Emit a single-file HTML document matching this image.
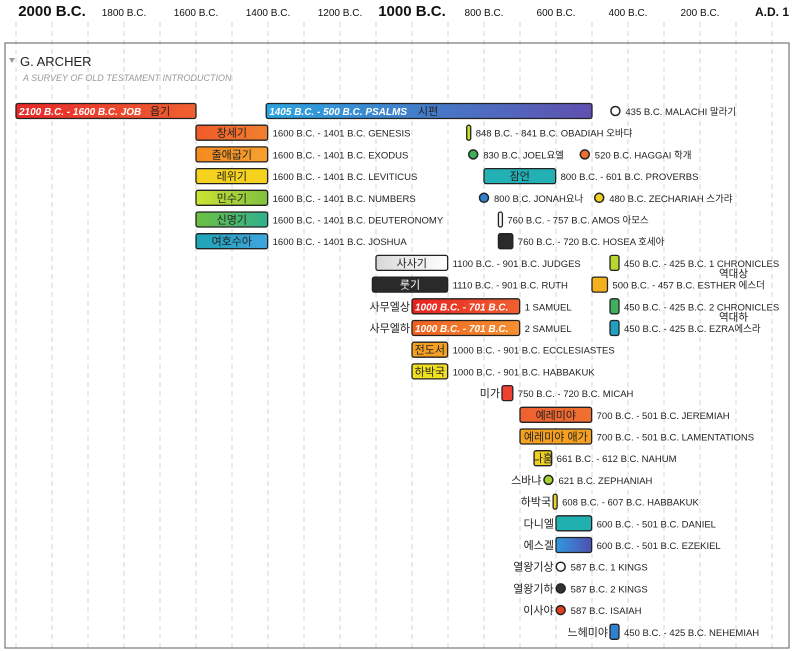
<!DOCTYPE html>
<html><head><meta charset="utf-8">
<style>
body{margin:0;background:#fff;}
svg{display:block;font-family:"Liberation Sans","Noto Sans CJK KR",sans-serif;}
</style></head>
<body>
<svg id="chart" width="800" height="651" viewBox="0 0 800 651">
<defs id="defs"></defs>
<g id="grid"></g>
<g id="axis"></g>
<rect x="5" y="43" width="784" height="605" fill="none" stroke="#777" stroke-width="1.2"/>
<path d="M9 58 L15 58 L12 63 Z" fill="#999"/>
<text x="20" y="66" font-size="13" fill="#222">G. ARCHER</text>
<text x="23" y="81" font-size="9" font-style="italic" fill="#999">A SURVEY OF OLD TESTAMENT INTRODUCTION</text>
<g id="marks"></g>
</svg>
<script>
const tickYears=[2000,1800,1600,1400,1200,1000,800,600,400,200,0];
const tickLabels=["2000 B.C.","1800 B.C.","1600 B.C.","1400 B.C.","1200 B.C.","1000 B.C.","800 B.C.","600 B.C.","400 B.C.","200 B.C.","A.D. 1"];
const gridYears=[2100,2000,1900,1800,1700,1600,1500,1400,1300,1200,1100,1000,900,800,700,600,500,400,300,200,100,0];
const starts=[2100,1405,435,1600,1600,1600,1600,1600,1600,848,830,520,800,800,480,760,760,1100,1110,1000,1000,1000,1000,750,700,700,661,621,608,600,600,587,587,587,450,450,500,450,450];
const ends  =[1600,500,435,1401,1401,1401,1401,1401,1401,841,830,520,601,800,480,757,720,901,901,701,701,901,901,720,501,501,612,621,607,501,501,587,587,587,425,425,457,425,425];
const rows  =[0,0,0,1,2,3,4,5,6,1,2,2,3,4,4,5,6,7,8,9,10,11,12,13,14,15,16,17,18,19,20,21,22,23,24,7,8,9,10];
const colA=["#e8282a","#2aa4e0","#ffffff","#f05a28","#f58a20","#f5d21e","#cde432","#6cc040","#1ea4b4","#c8e030","#3cb054","#f07030","#22b0b4","#3080d0","#f0d020","#e8e8e8","#2a2a2a","#d8d8d8","#2a2a2a","#e82020","#f06020","#f5a020","#f0e020","#f04030","#f06030","#f5a020","#f0d020","#a8d030","#f0d020","#20b0b0","#3098e0","#ffffff","#333333","#e04020","#3080d0","#b8d830","#f5b020","#40b060","#20a0c0"];
const colB=["#f06030","#6050b0","#ffffff","#f08030","#f5a030","#f5d21e","#80c040","#30b090","#40a4e0","#c8e030","#3cb054","#f07030","#22b0b4","#3080d0","#f0d020","#ffffff","#2a2a2a","#ffffff","#2a2a2a","#f06030","#f59030","#f5a020","#f0e020","#f04030","#f07030","#f5a020","#f0d020","#a8d030","#f0d020","#20b0b0","#5050b0","#ffffff","#333333","#e04020","#3080d0","#b8d830","#f5b020","#40b060","#20a0c0"];
const insideLabels=["2100 B.C. - 1600 B.C. JOB","1405 B.C. - 500 B.C. PSALMS","","창세기","출애굽기","레위기","민수기","신명기","여호수아","","","","잠언","","","","","사사기","룻기","1000 B.C. - 701 B.C.","1000 B.C. - 701 B.C.","전도서","하박국","","예레미야","예레미야 애가","나훔","","","","","","","","","","","",""];
const insideKo=["욥기","시편","","","","","","","","","","","","","","","","","","","","","","","","","","","","","","","","","","","","",""];
const afterLabels=["","","435 B.C. MALACHI 말라기","1600 B.C. - 1401 B.C. GENESIS","1600 B.C. - 1401 B.C. EXODUS","1600 B.C. - 1401 B.C. LEVITICUS","1600 B.C. - 1401 B.C. NUMBERS","1600 B.C. - 1401 B.C. DEUTERONOMY","1600 B.C. - 1401 B.C. JOSHUA","848 B.C. - 841 B.C. OBADIAH 오바댜","830 B.C. JOEL요엘","520 B.C. HAGGAI 학개","800 B.C. - 601 B.C. PROVERBS","800 B.C. JONAH요나","480 B.C. ZECHARIAH 스가랴","760 B.C. - 757 B.C. AMOS 아모스","760 B.C. - 720 B.C. HOSEA 호세아","1100 B.C. - 901 B.C. JUDGES","1110 B.C. - 901 B.C. RUTH","1 SAMUEL","2 SAMUEL","1000 B.C. - 901 B.C. ECCLESIASTES","1000 B.C. - 901 B.C. HABBAKUK","750 B.C. - 720 B.C. MICAH","700 B.C. - 501 B.C. JEREMIAH","700 B.C. - 501 B.C. LAMENTATIONS","661 B.C. - 612 B.C. NAHUM","621 B.C. ZEPHANIAH","608 B.C. - 607 B.C. HABBAKUK","600 B.C. - 501 B.C. DANIEL","600 B.C. - 501 B.C. EZEKIEL","587 B.C. 1 KINGS","587 B.C. 2 KINGS","587 B.C. ISAIAH","450 B.C. - 425 B.C. NEHEMIAH","450 B.C. - 425 B.C. 1 CHRONICLES","500 B.C. - 457 B.C. ESTHER 에스더","450 B.C. - 425 B.C. 2 CHRONICLES","450 B.C. - 425 B.C. EZRA에스라"];
const secondLines=["","","","","","","","","","","","","","","","","","","","","","","","","","","","","","","","","","","","역대상","","역대하",""];
const beforeLabels=["","","","","","","","","","","","","","","","","","","","사무엘상","사무엘하","","","미가","","","","스바냐","하박국","다니엘","에스겔","열왕기상","열왕기하","이사야","느헤미야","","","",""];
const darkInside=[3,4,5,6,7,8,12,17,21,22,24,25,26];

const NS="http://www.w3.org/2000/svg";
const X=y=>52+(2000-y)*0.36;
const ROW=r=>111+r*21.7;
function mk(tag,attrs,parent){const e=document.createElementNS(NS,tag);for(const k in attrs)e.setAttribute(k,attrs[k]);parent.appendChild(e);return e;}
const grid=document.getElementById('grid'),axis=document.getElementById('axis'),marks=document.getElementById('marks'),defs=document.getElementById('defs');

gridYears.forEach(g=>{
  const l=mk('line',{x1:X(g),x2:X(g),y1:22,y2:651,stroke:'#d4d4d4','stroke-width':1,'stroke-dasharray':'5,4'},grid);
  
  
});
tickYears.forEach((t,i)=>{
  const big=(t===2000||t===1000);const ad=(t===0);
  const e=mk('text',{x:X(t),y:16,'text-anchor':'middle','font-size':big?15:(ad?12:10),'font-weight':(big||ad)?'bold':'normal',fill:'#111'},axis);
  e.textContent=tickLabels[i];
  
  
});

starts.forEach((s,i)=>{
  const cy=ROW(rows[i]);
  const g=mk('g',{},marks);
  
  
  let x1=X(s),x2=X(ends[i]);
  let right;
  if(s===ends[i]){
    const c=mk('circle',{cx:x1,cy:cy,r:4.5,fill:colA[i],stroke:'#222','stroke-width':1.5},g);
    
    
    right=x1+5;x1=x1-5;
  } else {
    if(x2-x1<4){x2=x1+4;}
    const gid='gr'+i;
    const lg=mk('linearGradient',{id:gid,x1:0,x2:1,y1:0,y2:0},defs);
    mk('stop',{offset:'0','stop-color':colA[i]},lg);mk('stop',{offset:'1','stop-color':colB[i]},lg);
    const r=mk('rect',{x:x1,y:cy-7.5,width:x2-x1,height:15,rx:2,fill:'url(#'+gid+')',stroke:'#222','stroke-width':1.3},g);
    
    
    right=x2;
  }
  if(insideLabels[i]){
    const dark=darkInside.includes(i);
    const ko=/[가-힣]/.test(insideLabels[i]);
    const t=mk('text',{x:ko?(x1+x2)/2:x1+3,y:cy+4,'text-anchor':ko?'middle':'start','font-size':ko?11:10,'font-weight':ko?'normal':'bold','font-style':ko?'normal':'italic',fill:dark?'#222':'#fff'},g);
    t.textContent=insideLabels[i];
    
    
  }
  if(insideKo[i]){
    const t=mk('text',{x:i===0?150:418,y:cy+4,'font-size':11,fill:'#222'},g);
    t.textContent=insideKo[i];
    
    
  }
  if(afterLabels[i]){
    const t=mk('text',{x:right+5,y:cy+4,'font-size':9.5,fill:'#222'},g);
    t.textContent=afterLabels[i];
    
    
  }
  if(secondLines[i]){
    const t=mk('text',{x:right+100,y:cy+14,'font-size':10.5,fill:'#222'},g);
    t.textContent=secondLines[i];
    
    
  }
  if(beforeLabels[i]){
    const t=mk('text',{x:x1-2,y:cy+4,'text-anchor':'end','font-size':11,fill:'#222'},g);
    t.textContent=beforeLabels[i];
    
    
  }
});
</script>
</body></html>
